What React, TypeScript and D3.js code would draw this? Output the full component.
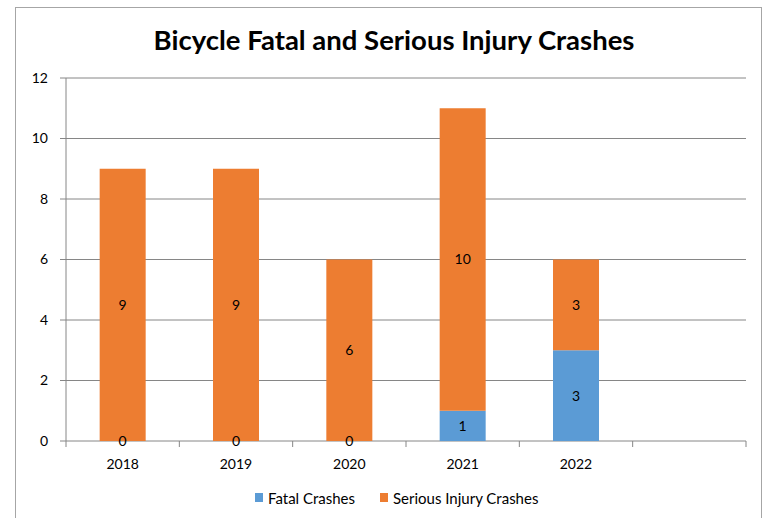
import React from "react";
import * as d3 from "d3";

const categories = ["2018", "2019", "2020", "2021", "2022", ""];
const fatal = [0, 0, 0, 1, 3];
const serious = [9, 9, 6, 10, 3];
const yTicks = [0, 2, 4, 6, 8, 10, 12];
const seriesNames = ["Fatal Crashes", "Serious Injury Crashes"];
const colors = ["#5B9BD5", "#ED7D31"];
const title = "Bicycle Fatal and Serious Injury Crashes";

const W = 771, H = 518;
const m = { left: 66, right: 746, top: 78, bottom: 441 };
const font = "Lato, 'Open Sans', sans-serif";

export default function App() {
  const xs = d3.scaleBand().domain(categories.map((c, i) => String(i))).range([m.left, m.right]);
  const y = d3.scaleLinear().domain([0, 12]).range([m.bottom, m.top]);
  const rows = fatal.map((f, i) => ({ i, f, s: serious[i] }));
  const stack = d3.stack<any>().keys(["f", "s"])(rows);
  const bw = 46;
  return (
    <div style={{ position: "absolute", left: 0, top: 0 }}>
      <svg width={W} height={H} style={{ display: "block" }}>
        <rect x={0} y={0} width={W} height={H} fill="#fff" />
        <rect x={15.5} y={7.5} width={746} height={520} fill="#fff" stroke="#a6a6a6" strokeWidth={1} />
        <text x={394} y={50} textAnchor="middle" fontFamily={font} fontWeight={700} fontSize={27.5} fill="#000">{title}</text>
        {yTicks.map(t => (
          <g key={t}>
            <line x1={m.left} x2={m.right} y1={y(t)} y2={y(t)} stroke="#868686" strokeWidth={1} />
            <line x1={m.left - 6} x2={m.left} y1={y(t)} y2={y(t)} stroke="#868686" />
            <text x={48} y={y(t)} dy="0.35em" textAnchor="end" fontFamily={font} fontSize={14} fill="#000">{t}</text>
          </g>
        ))}
        <line x1={m.left} x2={m.left} y1={m.top} y2={m.bottom} stroke="#868686" />
        {categories.map((c, i) => (
          <line key={"t" + i} x1={xs(String(i))!} x2={xs(String(i))!} y1={m.bottom} y2={m.bottom + 6} stroke="#868686" />
        ))}
        <line x1={m.right} x2={m.right} y1={m.bottom} y2={m.bottom + 6} stroke="#868686" />
        {stack.map((layer, li) =>
          layer.map((d, j) => {
            const cx = xs(String(j))! + xs.bandwidth() / 2;
            return (
              <rect key={li + "-" + j} x={cx - bw / 2} width={bw} y={y(d[1])} height={y(d[0]) - y(d[1])} fill={colors[li]} />
            );
          })
        )}
        {stack.map((layer, li) =>
          layer.map((d, j) => {
            const cx = xs(String(j))! + xs.bandwidth() / 2;
            const v = d[1] - d[0];
            return (
              <text key={"l" + li + "-" + j} x={cx} y={y((d[0] + d[1]) / 2)} dy="0.35em" textAnchor="middle" fontFamily={font} fontSize={14} fill="#000">{v}</text>
            );
          })
        )}
        {categories.map((c, i) => (
          <text key={"c" + i} x={xs(String(i))! + xs.bandwidth() / 2} y={464} dy="0.35em" textAnchor="middle" fontFamily={font} fontSize={14} fill="#000">{c}</text>
        ))}
        {seriesNames.map((n, i) => {
          const lx = [255, 380][i];
          return (
            <g key={n}>
              <rect x={lx} y={493} width={8} height={9} fill={colors[i]} />
              <text x={lx + 13} y={498.5} dy="0.35em" fontFamily={font} fontSize={15} fill="#000">{n}</text>
            </g>
          );
        })}
      </svg>
    </div>
  );
}
